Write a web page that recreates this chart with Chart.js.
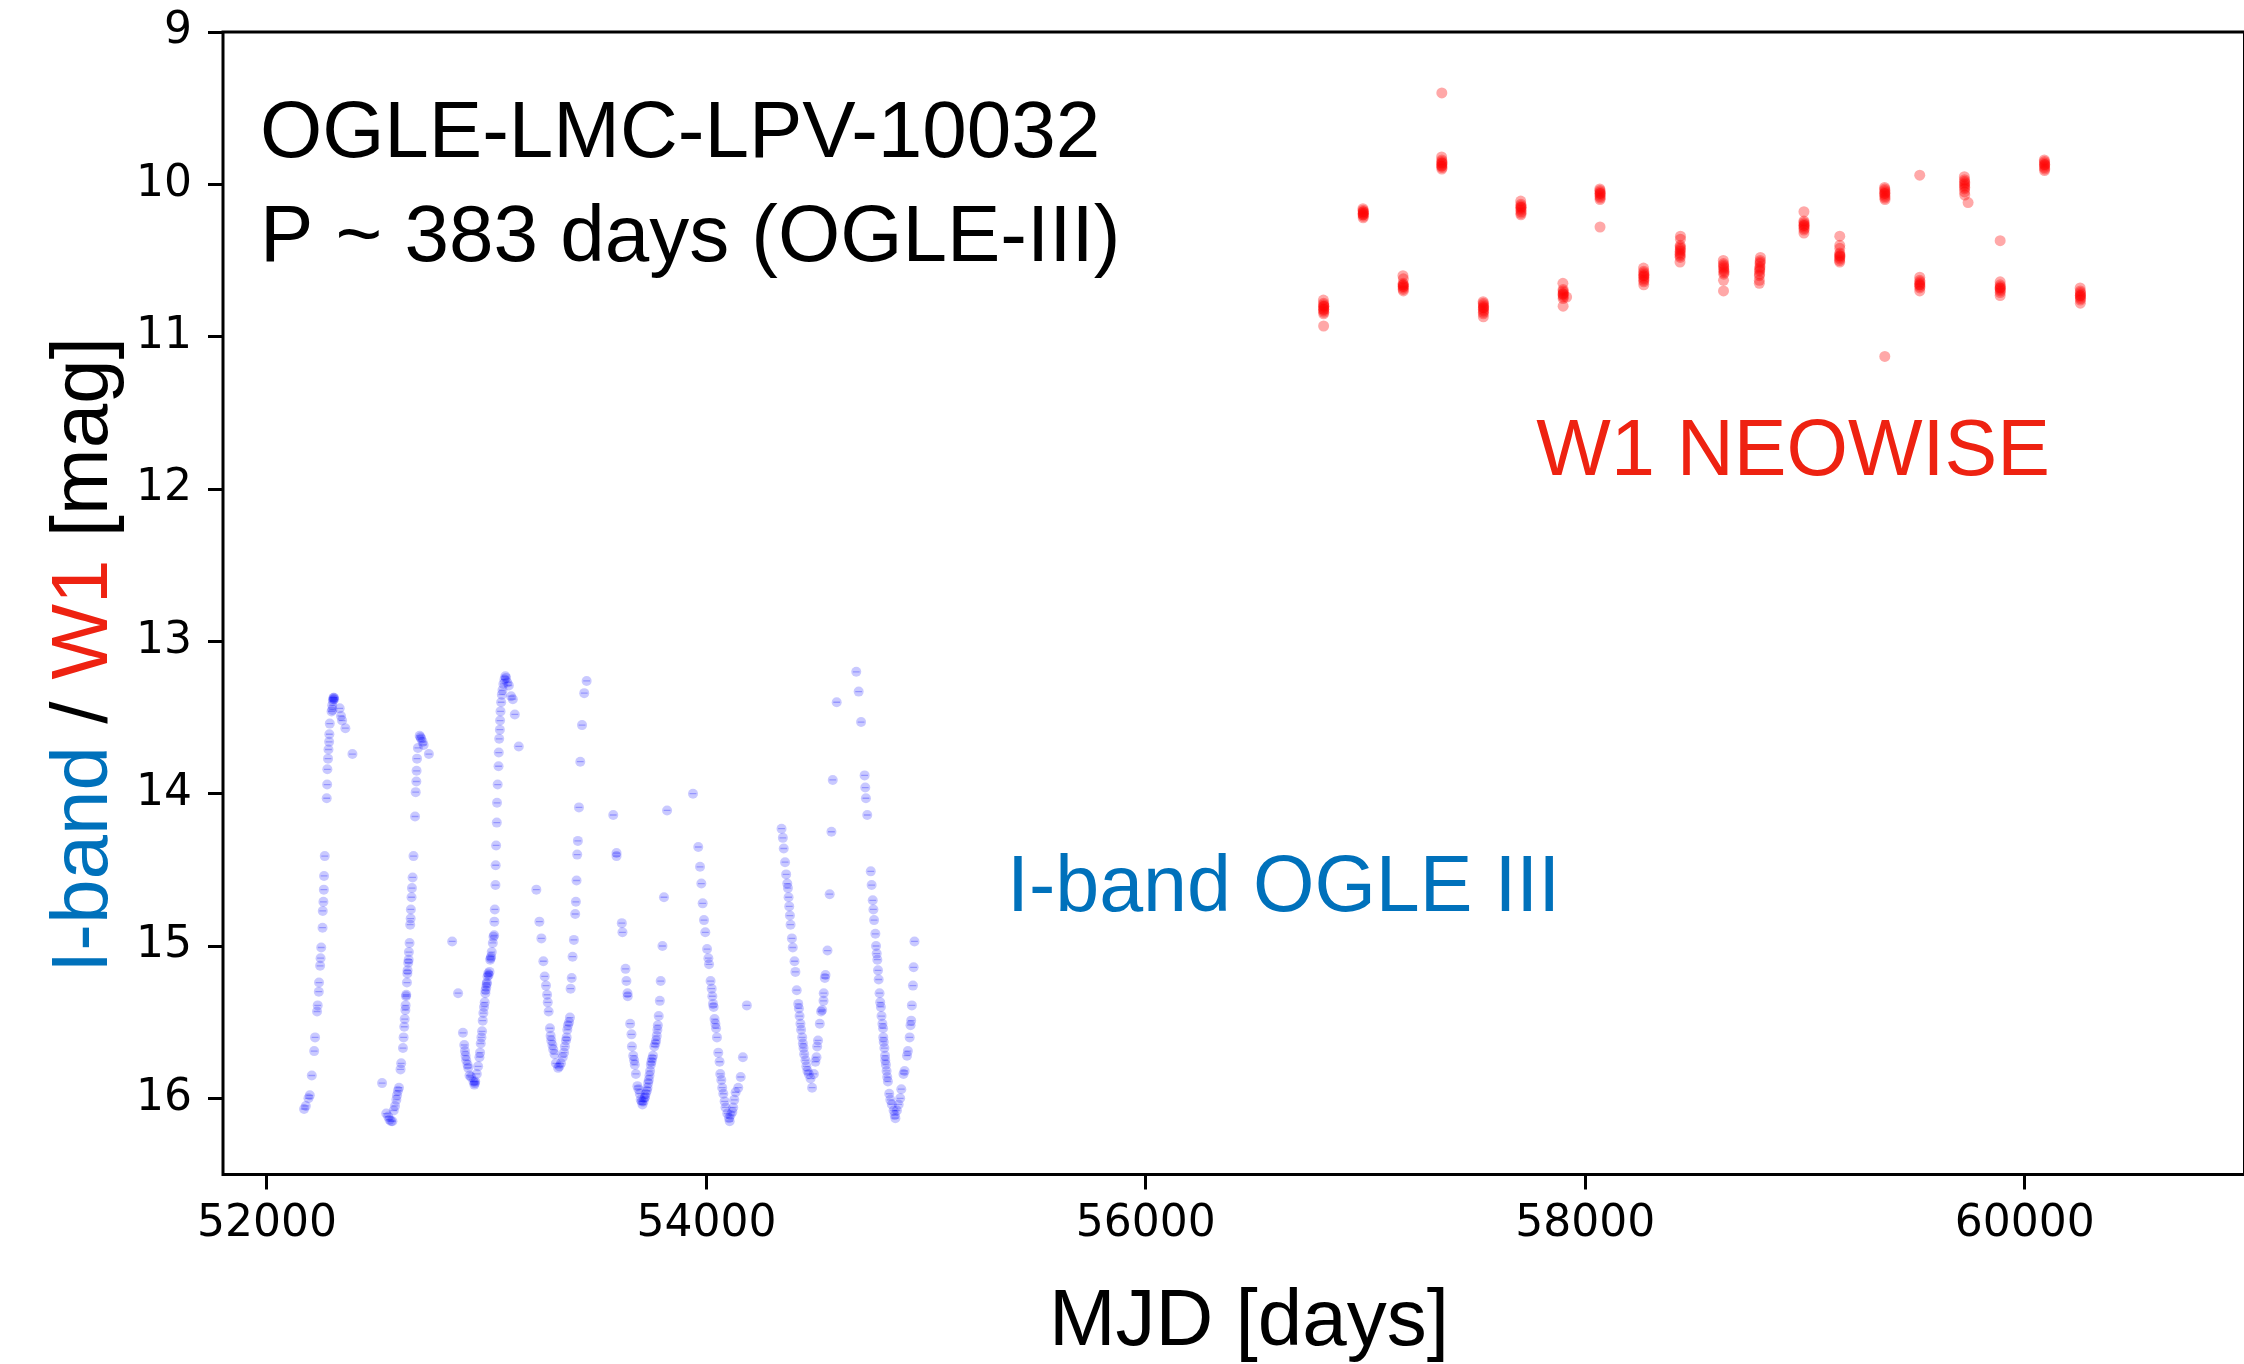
<!DOCTYPE html>
<html>
<head>
<meta charset="utf-8">
<script src="https://cdn.jsdelivr.net/npm/chart.js@4.4.0/dist/chart.umd.min.js"></script>
<style>
html,body{margin:0;padding:0;overflow:hidden;background:#fff}
canvas{display:block}
</style>
</head>
<body>
<canvas id="c" width="2250" height="1364"></canvas>
<script>
// ---------------- DATA ----------------
// OGLE-III I-band light curve (MJD, mag)
const iBandMjd = [
  52169,52177,52189,52195,52204,52215,52219,52228,52231,52236,52237,52242,52244,52247,52253,52254,52257,52259,52260,52263,52272,52274,52275,52278,52280,52283,52284,52286,52294,52297,52300,52303,52306,52298,52302,52305,52331,52337,52342,52357,52389,
  52524,52543,52552,52558,52565,52571,52577,52583,52589,52592,52596,52601,52608,52611,52619,52622,52625,52627,52630,52631,52633,52634,52637,52639,52640,52643,52645,52646,52649,52652,52654,52655,52658,52660,52663,52667,52674,52677,52680,52681,52683,52687,52695,52699,52702,52708,52713,52737,
  52843,52870,52892,52898,52901,52904,52907,52913,52916,52922,52929,52940,52944,52946,52948,52955,52961,52967,52970,52973,52976,52979,52982,52985,52988,52991,52994,52995,52998,53000,53001,53004,53007,53009,53013,53016,53018,53020,53023,53028,53031,53034,53035,53037,53040,53041,53043,53046,53047,53050,53054,53055,53057,53060,53061,53063,53066,53069,53072,53076,53081,53085,53088,53094,53101,53111,53119,53128,53146,
  53226,53240,53249,53258,53264,53270,53275,53278,53282,53288,53291,53294,53299,53303,53309,53315,53325,53331,53338,53346,53352,53356,53361,53364,53367,53370,53375,53379,53382,53387,53391,53397,53403,53406,53409,53412,53415,53420,53426,53434,53444,53455,
  53576,53591,53591,53615,53618,53632,53636,53641,53642,53653,53659,53661,53667,53671,53674,53679,53686,53691,53697,53701,53706,53709,53714,53718,53721,53724,53729,53732,53735,53738,53741,53744,53747,53750,53753,53757,53763,53768,53771,53774,53777,53779,53783,53788,53792,53800,53807,53821,53939,
  53963,53971,53977,53983,53989,53995,54003,54009,54012,54019,54024,54027,54030,54033,54037,54041,54044,54048,54054,54060,54063,54068,54072,54077,54083,54087,54095,54103,54106,54110,54118,54122,54127,54133,54145,54156,54166,54184,
  54342,54348,54352,54358,54363,54368,54371,54374,54377,54380,54383,54389,54393,54401,54405,54411,54418,54421,54424,54428,54431,54436,54439,54442,54445,54451,54455,54460,54466,54474,54481,54489,54496,54501,54504,54508,54516,54522,54527,54533,54534,54539,54542,54551,54561,54569,54575,54593,54682,54693,54704,
  54720,54723,54726,54732,54748,54752,54757,54760,54763,54769,54772,54775,54778,54781,54784,54788,54791,54794,54797,54801,54804,54805,54807,54810,54813,54814,54817,54820,54823,54826,54832,54837,54844,54852,54857,54860,54867,54875,54882,54887,54897,54902,54913,54917,54925,54929,54932,54935,54940,54943,54947
];
const iBandMag = [
  16.07,16.05,16.00,15.98,15.85,15.69,15.60,15.43,15.39,15.30,15.24,15.13,15.08,15.01,14.88,14.77,14.71,14.63,14.54,14.41,14.03,13.94,13.84,13.77,13.71,13.66,13.61,13.54,13.46,13.42,13.39,13.37,13.38,13.45,13.38,13.37,13.44,13.49,13.52,13.57,13.74,
  15.90,16.10,16.12,16.14,16.15,16.15,16.08,16.05,16.01,15.98,15.95,15.93,15.81,15.77,15.67,15.60,15.53,15.48,15.42,15.39,15.33,15.32,15.24,15.18,15.16,15.11,15.09,15.04,14.98,14.86,14.82,14.76,14.68,14.62,14.55,14.41,14.15,13.99,13.92,13.85,13.77,13.70,13.62,13.63,13.64,13.66,13.68,13.74,
  14.97,15.31,15.57,15.65,15.69,15.72,15.75,15.78,15.80,15.85,15.86,15.89,15.91,15.90,15.89,15.84,15.79,15.73,15.70,15.64,15.60,15.56,15.49,15.44,15.40,15.37,15.31,15.29,15.27,15.25,15.24,15.20,15.18,15.19,15.17,15.09,15.08,15.07,15.04,14.98,14.94,14.93,14.84,14.76,14.60,14.47,14.34,14.19,14.06,13.94,13.82,13.73,13.64,13.58,13.52,13.46,13.40,13.35,13.32,13.28,13.25,13.23,13.24,13.27,13.29,13.36,13.38,13.48,13.69,
  14.63,14.84,14.95,15.10,15.20,15.26,15.32,15.37,15.43,15.54,15.59,15.62,15.65,15.68,15.71,15.77,15.80,15.79,15.77,15.73,15.70,15.66,15.62,15.60,15.55,15.52,15.50,15.47,15.28,15.21,15.07,14.96,14.79,14.71,14.57,14.40,14.31,14.09,13.79,13.55,13.34,13.26,
  14.14,14.39,14.41,14.85,14.91,15.15,15.23,15.31,15.33,15.51,15.58,15.66,15.72,15.75,15.78,15.84,15.92,15.94,15.97,16.01,16.02,16.04,16.02,16.00,15.99,15.97,15.95,15.93,15.90,15.88,15.85,15.82,15.78,15.76,15.74,15.72,15.66,15.64,15.62,15.59,15.55,15.52,15.46,15.36,15.23,15.00,14.68,14.11,14.00,
  14.35,14.48,14.59,14.72,14.83,14.91,15.02,15.08,15.12,15.23,15.28,15.33,15.38,15.40,15.48,15.51,15.54,15.60,15.70,15.76,15.84,15.88,15.93,15.97,16.02,16.06,16.10,16.13,16.15,16.11,16.09,16.06,16.01,15.96,15.93,15.86,15.73,15.39,
  14.23,14.29,14.36,14.45,14.53,14.59,14.62,14.68,14.74,14.80,14.86,14.95,15.01,15.10,15.17,15.29,15.38,15.41,15.46,15.51,15.55,15.60,15.64,15.67,15.71,15.75,15.79,15.82,15.84,15.87,15.93,15.84,15.76,15.73,15.66,15.62,15.51,15.43,15.42,15.36,15.31,15.21,15.19,15.03,14.66,14.25,13.91,13.40,13.20,13.33,13.53,
  13.88,13.96,14.03,14.14,14.51,14.60,14.70,14.76,14.83,14.92,15.00,15.05,15.09,15.16,15.22,15.31,15.37,15.40,15.46,15.51,15.54,15.60,15.63,15.67,15.72,15.75,15.78,15.82,15.86,15.89,15.97,16.01,16.04,16.08,16.11,16.13,16.08,16.04,16.00,15.94,15.84,15.82,15.72,15.69,15.60,15.52,15.49,15.39,15.26,15.14,14.97
];

// NEOWISE W1 photometry (MJD, mag), grouped by visit
const w1Mjd = [
  56808,56809,56809,56810,56809,56810,56809,56810,56809,56809,56810,56809,
  56988,56989,56989,56990,56989,56990,56989,56989,56990,56989,
  57170,57172,57171,57171,57172,57171,57171,57172,57171,57171,
  57347,57346,57347,57347,57348,57347,57347,57348,57347,57347,57346,
  57535,57536,57536,57537,57536,57536,57537,57536,57536,57536,57537,
  57706,57707,57707,57708,57707,57707,57708,57707,57707,57707,
  57898,57899,57899,57900,57899,57899,57900,57899,57899,57915,57899,
  58066,58067,58067,58068,58067,58067,58068,58067,58067,58067,
  58265,58266,58266,58267,58266,58266,58267,58266,58266,58266,58267,
  58433,58433,58432,58432,58433,58432,58432,58431,58432,58431,58432,58431,
  58628,58629,58629,58630,58630,58630,58631,58631,58630,58629,58629,
  58797,58796,58796,58795,58795,58794,58794,58793,58793,58792,58792,58792,
  58995,58995,58995,58996,58995,58995,58996,58995,58995,58996,
  59158,59158,59158,59158,59158,59159,59158,59158,59157,59158,59158,
  59362,59363,59363,59364,59363,59363,59364,59363,59364,59363,59363,
  59522,59522,59522,59523,59522,59522,59523,59522,59522,59522,
  59725,59726,59726,59727,59726,59726,59727,59726,59726,59727,59742,
  59888,59888,59888,59889,59888,59888,59889,59888,59888,59888,
  60089,60090,60090,60091,60090,60090,60091,60090,60090,
  60252,60253,60253,60254,60253,60253,60254,60253,60253,60253
];
const w1Mag = [
  10.76,10.78,10.79,10.80,10.81,10.82,10.83,10.84,10.85,10.82,10.80,10.93,
  10.16,10.17,10.18,10.19,10.20,10.21,10.22,10.19,10.18,10.20,
  10.60,10.62,10.65,10.66,10.67,10.68,10.69,10.70,10.67,10.66,
  9.40,9.82,9.84,9.85,9.86,9.87,9.88,9.89,9.90,9.86,9.88,
  10.77,10.78,10.79,10.80,10.81,10.82,10.83,10.84,10.85,10.87,10.81,
  10.11,10.13,10.14,10.15,10.16,10.17,10.18,10.19,10.15,10.20,
  10.65,10.69,10.70,10.71,10.72,10.73,10.74,10.75,10.72,10.74,10.80,
  10.03,10.04,10.05,10.06,10.07,10.08,10.09,10.10,10.06,10.28,
  10.55,10.57,10.58,10.59,10.60,10.61,10.62,10.63,10.64,10.66,10.60,
  10.34,10.36,10.40,10.41,10.42,10.43,10.44,10.45,10.46,10.47,10.48,10.51,
  10.50,10.52,10.53,10.54,10.55,10.56,10.57,10.58,10.59,10.63,10.70,
  10.48,10.50,10.51,10.52,10.54,10.55,10.56,10.57,10.59,10.60,10.63,10.65,
  10.18,10.24,10.25,10.26,10.27,10.28,10.29,10.30,10.32,10.27,
  10.34,10.40,10.42,10.45,10.46,10.47,10.48,10.49,10.50,10.51,10.47,
  10.02,10.03,10.04,10.05,10.06,10.07,10.08,10.09,10.10,10.06,11.13,
  9.94,10.61,10.63,10.64,10.65,10.66,10.67,10.68,10.70,10.66,
  9.95,9.97,9.98,9.99,10.00,10.01,10.02,10.03,10.05,10.07,10.12,
  10.37,10.64,10.66,10.67,10.68,10.69,10.70,10.71,10.73,10.68,
  9.84,9.85,9.86,9.87,9.88,9.89,9.90,9.91,9.87,
  10.68,10.70,10.71,10.72,10.73,10.74,10.75,10.76,10.78,10.73
];

const xTickValues = [52000, 54000, 56000, 58000, 60000];
const yTickValues = [9, 10, 11, 12, 13, 14, 15, 16];
const titleLines = ['OGLE-LMC-LPV-10032', 'P ~ 383 days (OGLE-III)'];
const iBandLabel = 'I-band OGLE III';
const w1Label = 'W1 NEOWISE';
const xTitle = 'MJD [days]';
const yTitleParts = ['I-band', ' / ', 'W1', ' [mag]'];

// ---------------- STYLE / LAYOUT ----------------
const BLUE_TXT = '#0071bb';
const RED_TXT = '#ee2211';
const TEXT_FONT = '"Liberation Sans", Arial, Helvetica, sans-serif';
const TICK_FONT = '"DejaVu Sans", sans-serif';
const textPlacement = {
  title: { mjd: 51968, mag: [9.82, 10.50] },
  w1:    { mjd: 57777, mag: 11.91 },
  iband: { mjd: 55368, mag: 14.77 }
};

const toXY = (xs, ys) => xs.map((x, i) => ({ x: x, y: ys[i] }));
const iPts = toXY(iBandMjd, iBandMag);
const wPts = toXY(w1Mjd, w1Mag);

const noLabelPadding = s => {
  s.paddingTop = 0; s.paddingBottom = 0; s.paddingLeft = 0; s.paddingRight = 0;
};

const decor = {
  id: 'decor',
  afterDraw(chart) {
    const ctx = chart.ctx, a = chart.chartArea;
    const sx = chart.scales.x, sy = chart.scales.y;
    ctx.save();
    // frame
    ctx.strokeStyle = '#000';
    ctx.lineWidth = 3;
    ctx.strokeRect(a.left, a.top, a.right - a.left, a.bottom - a.top);
    // title block
    ctx.font = '80px ' + TEXT_FONT;
    ctx.textAlign = 'left';
    ctx.textBaseline = 'alphabetic';
    ctx.fillStyle = '#000';
    titleLines.forEach((t, i) => {
      ctx.fillText(t, sx.getPixelForValue(textPlacement.title.mjd), sy.getPixelForValue(textPlacement.title.mag[i]));
    });
    ctx.font = '79px ' + TEXT_FONT;
    ctx.fillStyle = RED_TXT;
    ctx.fillText(w1Label, sx.getPixelForValue(textPlacement.w1.mjd), sy.getPixelForValue(textPlacement.w1.mag));
    ctx.fillStyle = BLUE_TXT;
    ctx.fillText(iBandLabel, sx.getPixelForValue(textPlacement.iband.mjd), sy.getPixelForValue(textPlacement.iband.mag));
    // x title
    ctx.font = '80px ' + TEXT_FONT;
    ctx.fillStyle = '#000';
    ctx.textAlign = 'center';
    ctx.fillText(xTitle, 1249, 1345);
    // y title (multi-coloured)
    ctx.translate(107, 655);
    ctx.rotate(-Math.PI / 2);
    ctx.textAlign = 'left';
    const cols = [BLUE_TXT, '#000', RED_TXT, '#000'];
    const widths = yTitleParts.map(p => ctx.measureText(p).width);
    let x = -widths.reduce((s, w) => s + w, 0) / 2;
    yTitleParts.forEach((p, i) => {
      ctx.fillStyle = cols[i];
      ctx.fillText(p, x, 0);
      x += widths[i];
    });
    ctx.restore();
  }
};

new Chart(document.getElementById('c'), {
  type: 'scatter',
  data: {
    datasets: [
      { label: 'I-band', data: iPts, pointStyle: 'circle', pointRadius: 5,
        pointBackgroundColor: 'rgba(0,0,255,0.21)', pointBorderWidth: 0, pointBorderColor: 'rgba(0,0,0,0)' },
      { label: 'I-band caps', data: iPts, pointStyle: 'line', pointRadius: 3.4,
        pointBorderColor: 'rgba(0,0,255,0.26)', pointBorderWidth: 1.3 },
      { label: 'W1', data: wPts, pointStyle: 'circle', pointRadius: 5.5,
        pointBackgroundColor: 'rgba(255,0,0,0.34)', pointBorderWidth: 0, pointBorderColor: 'rgba(0,0,0,0)' }
    ]
  },
  options: {
    responsive: false,
    animation: false,
    devicePixelRatio: 1,
    layout: { padding: { left: 0, top: 32, right: 3, bottom: 0 } },
    plugins: { legend: { display: false }, tooltip: { enabled: false } },
    scales: {
      x: {
        type: 'linear', min: 51800, max: 61000,
        afterBuildTicks: s => { s.ticks = xTickValues.map(v => ({ value: v })); },
        afterFit: s => { s.height = 189.5; noLabelPadding(s); },
        grid: { drawOnChartArea: false, drawTicks: true, tickLength: 15, tickWidth: 3, tickColor: '#000', color: '#000' },
        border: { display: false },
        ticks: { autoSkip: false, maxRotation: 0, padding: 9, color: '#000',
                 font: { family: TICK_FONT, size: 44 }, callback: v => String(v) }
      },
      y: {
        type: 'linear', reverse: true, min: 9, max: 16.5,
        afterBuildTicks: s => { s.ticks = yTickValues.map(v => ({ value: v })); },
        afterFit: s => { s.width = 223; noLabelPadding(s); },
        grid: { drawOnChartArea: false, drawTicks: true, tickLength: 15, tickWidth: 3, tickColor: '#000', color: '#000' },
        border: { display: false },
        ticks: { autoSkip: false, padding: 16, color: '#000',
                 font: { family: TICK_FONT, size: 44 }, callback: v => String(v) }
      }
    }
  },
  plugins: [decor]
});
</script>
</body>
</html>
